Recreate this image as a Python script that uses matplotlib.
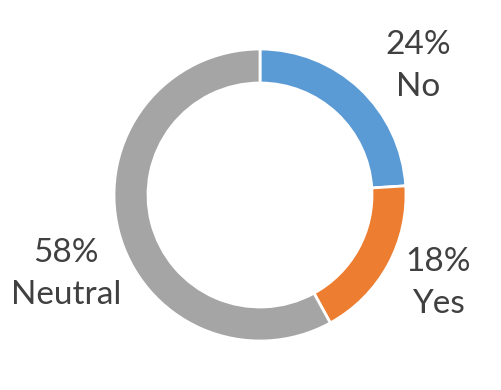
import matplotlib
matplotlib.use("Agg")
import matplotlib.pyplot as plt

labels = ["No", "Yes", "Neutral"]
shares = [24, 18, 58]
colors = ["#5B9BD5", "#ED7D31", "#A5A5A5"]

# label anchor points (pixels from top-left of the picture)
label_pos = [(418, 66), (438, 283), (66, 274)]

plt.rcParams["font.family"] = ["Lato", "DejaVu Sans"]

fig = plt.figure(figsize=(5.01, 3.90), dpi=100)
ax = fig.add_axes([0, 0, 1, 1])

ax.pie(shares, colors=colors, startangle=90, counterclock=False,
       center=(260, 195), radius=146, frame=True,
       wedgeprops=dict(width=34, edgecolor="white", linewidth=2))
ax.set_xlim(0, 501)
ax.set_ylim(0, 390)
ax.set_aspect("equal")
ax.axis("off")

for lab, val, (x, y) in zip(labels, shares, label_pos):
    ax.text(x, 390 - y, f"{val}%\n{lab}", ha="center", va="center",
            fontsize=24, color="#404040", linespacing=1.5)

fig.savefig("out.png", dpi=100)
